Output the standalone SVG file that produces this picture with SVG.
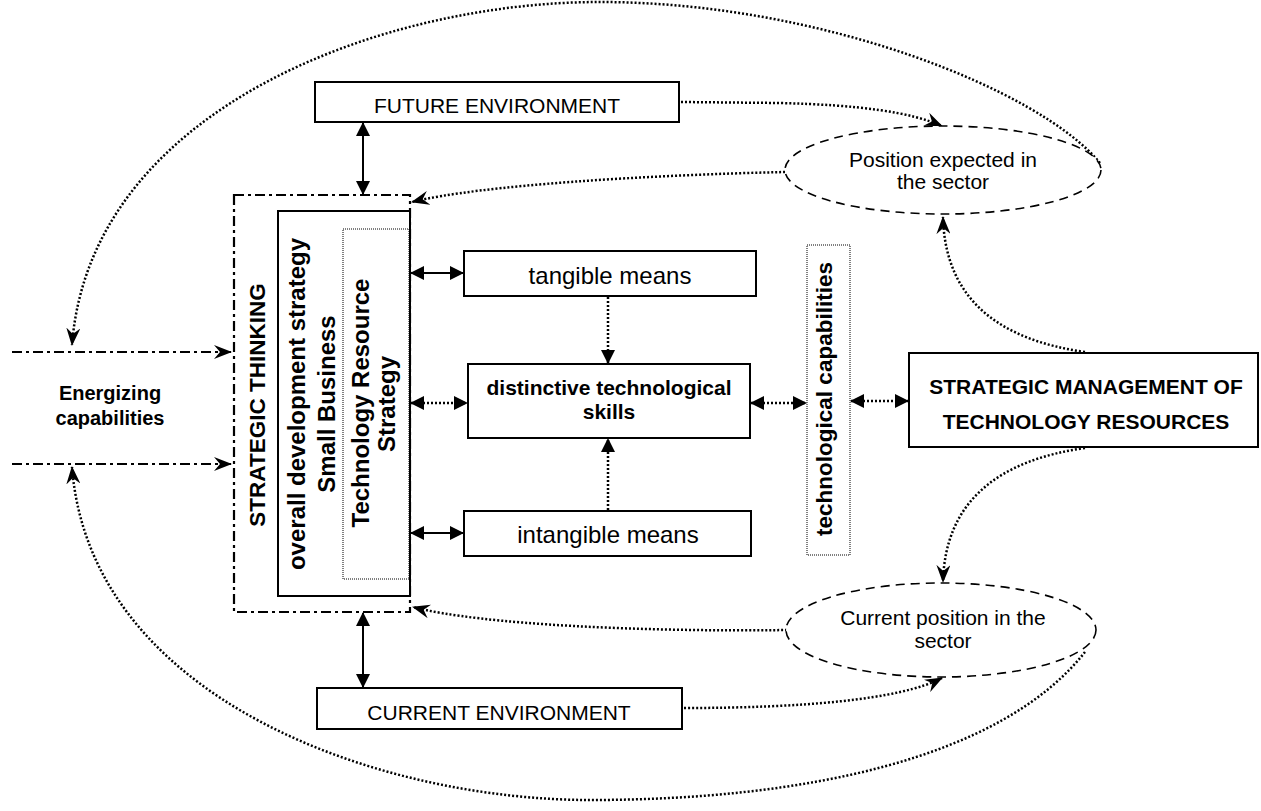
<svg xmlns="http://www.w3.org/2000/svg" width="1261" height="811" viewBox="0 0 1261 811">
<defs>
<style>
.box{fill:#fff;stroke:#000;stroke-width:2}
.dotbox{fill:none;stroke:#000;stroke-width:1;stroke-dasharray:1,1}
.dashdot{fill:none;stroke:#000;stroke-width:2.2;stroke-dasharray:10,4,3,4}
.ell{fill:#fff;stroke:#000;stroke-width:1.6;stroke-dasharray:9,6}
.solid{fill:none;stroke:#000;stroke-width:2}
.dot{fill:none;stroke:#000;stroke-width:2.5;stroke-dasharray:2,2}
.t{font-family:"Liberation Sans",Arial,sans-serif;fill:#000;text-anchor:middle}
.b{font-weight:bold}
</style>
<marker id="tri" viewBox="0 0 14 14" refX="13" refY="7" markerWidth="14" markerHeight="14" markerUnits="userSpaceOnUse" orient="auto-start-reverse">
<path d="M0,0 L14,7 L0,14 Z" fill="#000"/>
</marker>
<marker id="barb" viewBox="0 0 18 14" refX="17" refY="7" markerWidth="18" markerHeight="14" markerUnits="userSpaceOnUse" orient="auto">
<path d="M0,0 L18,7 L0,14 L6,7 Z" fill="#000"/>
</marker>
</defs>
<rect width="1261" height="811" fill="#fff"/>

<g id="connectors">
<path class="dot" d="M1100 163 C1040 90 820 2 600 2 C380 2 90 110 72 345" marker-end="url(#barb)"/>
<path class="dot" d="M1085 652 C1000 760 800 800 590 800 C380 800 90 700 72 467" marker-end="url(#barb)"/>
<path class="dot" d="M681 102 L780 103 C860 105 910 112 942 126" marker-end="url(#barb)"/>
<path class="dot" d="M684 708 C800 708 900 700 942 678" marker-end="url(#barb)"/>
<path class="dot" d="M785 172 C650 175 480 185 412 202" marker-end="url(#barb)"/>
<path class="dot" d="M787 630 C650 632 480 625 413 607" marker-end="url(#barb)"/>
<path class="dot" d="M1085 352 C1000 340 945 300 943 217" marker-end="url(#barb)"/>
<path class="dot" d="M1085 448 C1000 460 945 500 943 582" marker-end="url(#barb)"/>
<path class="dashdot" d="M12 352 L231 352" marker-end="url(#barb)"/>
<path class="dashdot" d="M12 464 L231 464" marker-end="url(#barb)"/>
<path class="solid" d="M363 123 L363 194" marker-start="url(#tri)" marker-end="url(#tri)"/>
<path class="solid" d="M363 613 L363 687" marker-start="url(#tri)" marker-end="url(#tri)"/>
<path class="solid" d="M411 273 L463 273" marker-start="url(#tri)" marker-end="url(#tri)"/>
<path class="solid" d="M411 533 L463 533" marker-start="url(#tri)" marker-end="url(#tri)"/>
<path class="dot" d="M411 403 L467 403" marker-start="url(#tri)" marker-end="url(#tri)"/>
<path class="dot" d="M751 403 L806 403" marker-start="url(#tri)" marker-end="url(#tri)"/>
<path class="dot" d="M851 401 L908 401" marker-start="url(#tri)" marker-end="url(#tri)"/>
<path class="dot" d="M608 297 L608 363" marker-end="url(#tri)"/>
<path class="dot" d="M608 510 L608 439" marker-end="url(#tri)"/>
</g>

<g id="future-environment">
<rect class="box" x="315" y="82" width="364" height="40"/>
<text class="t" x="497" y="113" font-size="21">FUTURE ENVIRONMENT</text>
</g>

<g id="current-environment">
<rect class="box" x="317" y="688" width="365" height="41"/>
<text class="t" x="499" y="720" font-size="21">CURRENT ENVIRONMENT</text>
</g>

<g id="position-expected">
<ellipse class="ell" cx="943" cy="170" rx="158" ry="44"/>
<text class="t" x="943" y="167" font-size="21">Position expected in</text>
<text class="t" x="943" y="189" font-size="21">the sector</text>
</g>

<g id="current-position">
<ellipse class="ell" cx="941" cy="630" rx="155" ry="47"/>
<text class="t" x="943" y="625" font-size="21">Current position in the</text>
<text class="t" x="943" y="648" font-size="21">sector</text>
</g>

<g id="strategic-thinking">
<rect class="dashdot" x="234" y="195" width="176" height="417"/>
<text class="t b" font-size="22.5" transform="translate(265,405) rotate(-90)">STRATEGIC THINKING</text>
</g>

<g id="overall-strategy">
<rect class="box" x="278" y="211" width="132" height="385"/>
<text class="t b" font-size="24" transform="translate(305,404) rotate(-90)">overall development strategy</text>
<text class="t b" font-size="24" transform="translate(335,404) rotate(-90)">Small Business</text>
</g>

<g id="technology-resource-strategy">
<rect class="dotbox" x="343" y="229" width="66" height="350"/>
<text class="t b" font-size="24" transform="translate(369,403) rotate(-90)">Technology Resource</text>
<text class="t b" font-size="24" transform="translate(395,404) rotate(-90)">Strategy</text>
</g>

<g id="tangible-means">
<rect class="box" x="464" y="251" width="292" height="45"/>
<text class="t" x="610" y="284" font-size="24">tangible means</text>
</g>

<g id="distinctive-skills">
<rect class="box" x="468" y="364" width="282" height="74"/>
<text class="t b" x="609" y="395" font-size="21">distinctive technological</text>
<text class="t b" x="609" y="419" font-size="21">skills</text>
</g>

<g id="intangible-means">
<rect class="box" x="464" y="511" width="287" height="45"/>
<text class="t" x="608" y="543" font-size="24">intangible means</text>
</g>

<g id="technological-capabilities">
<rect class="dotbox" x="807" y="245" width="43" height="310"/>
<text class="t b" font-size="22.5" transform="translate(832,399) rotate(-90)">technological capabilities</text>
</g>

<g id="smtr">
<rect class="box" x="909" y="353" width="349" height="94"/>
<text class="t b" x="1086" y="394" font-size="21">STRATEGIC MANAGEMENT OF</text>
<text class="t b" x="1086" y="429" font-size="21">TECHNOLOGY RESOURCES</text>
</g>

<g id="energizing">
<text class="t b" x="110" y="400" font-size="20">Energizing</text>
<text class="t b" x="110" y="425" font-size="20">capabilities</text>
</g>
</svg>
